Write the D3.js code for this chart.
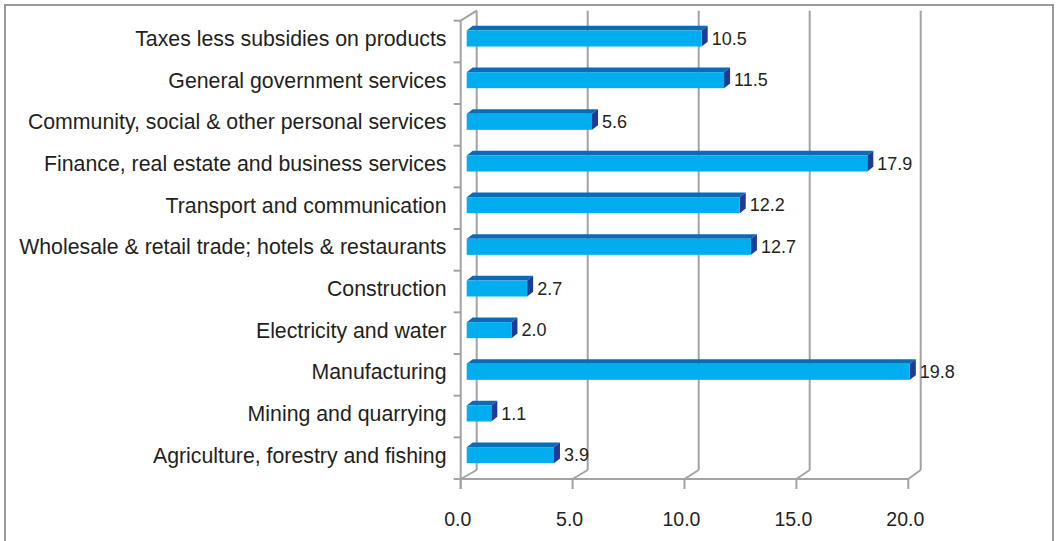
<!DOCTYPE html>
<html>
<head>
<meta charset="utf-8">
<script src="https://cdn.jsdelivr.net/npm/d3@7"></script>
<style>
  html, body { margin: 0; padding: 0; background: #fff; }
  svg { display: block; font-family: "Liberation Sans", Arial, sans-serif; }
</style>
</head>
<body>
<svg id="chart" width="1056" height="541"></svg>
<script>
// Sector shares (top to bottom as displayed)
const categories = [
  "Taxes less subsidies on products",
  "General government services",
  "Community, social & other personal services",
  "Finance, real estate and business services",
  "Transport and communication",
  "Wholesale & retail trade; hotels & restaurants",
  "Construction",
  "Electricity and water",
  "Manufacturing",
  "Mining and quarrying",
  "Agriculture, forestry and fishing"
];
const values = [10.5, 11.5, 5.6, 17.9, 12.2, 12.7, 2.7, 2.0, 19.8, 1.1, 3.9];
const tickValues = [0, 5, 10, 15, 20];
const tickLabels = ["0.0", "5.0", "10.0", "15.0", "20.0"];

const svg = d3.select("#chart");

// Outer frame (open at the bottom edge)
svg.append("rect")
  .attr("x", 5).attr("y", 5)
  .attr("width", 1048).attr("height", 560)
  .attr("fill", "none")
  .attr("stroke", "#9a9a9a")
  .attr("stroke-width", 2);

// Front plane and back wall scales (pseudo-3D floor depth)
const x = d3.scaleLinear().domain([0, 20]).range([460.7, 908.3]);
const xBack = d3.scaleLinear().domain([0, 20]).range([476.7, 920.7]);
const floorY = 479, backFloorY = 470, backTopY = 10.7, wallTopY = 20.7;

const y = d3.scaleBand().domain(categories).range([wallTopY, floorY]).padding(0);

const grid = svg.append("g").attr("stroke", "#a3a3a3").attr("stroke-width", 2).attr("fill", "none");

// Back wall vertical gridlines
grid.selectAll("line.back").data(tickValues).join("line")
  .attr("class", "back")
  .attr("x1", d => xBack(d)).attr("x2", d => xBack(d))
  .attr("y1", backTopY).attr("y2", backFloorY);

// Floor depth diagonals
grid.selectAll("line.depth").data(tickValues).join("line")
  .attr("class", "depth")
  .attr("x1", d => x(d)).attr("x2", d => xBack(d))
  .attr("y1", floorY).attr("y2", backFloorY);

// Left wall top edge
grid.append("line")
  .attr("x1", x(0)).attr("y1", wallTopY)
  .attr("x2", xBack(0)).attr("y2", backTopY);

// Left wall front edge (extends into the 0 tick)
grid.append("line")
  .attr("x1", x(0)).attr("x2", x(0))
  .attr("y1", wallTopY).attr("y2", floorY + 10);

// Floor front edge
grid.append("line")
  .attr("x1", x(0) - 7).attr("x2", x(20))
  .attr("y1", floorY).attr("y2", floorY);

// Value axis tick marks
grid.selectAll("line.xtick").data(tickValues).join("line")
  .attr("class", "xtick")
  .attr("x1", d => x(d)).attr("x2", d => x(d))
  .attr("y1", floorY).attr("y2", floorY + 10);

// Category tick marks at band boundaries
const bounds = categories.map(c => y(c));
grid.selectAll("line.ytick").data(bounds).join("line")
  .attr("class", "ytick")
  .attr("x1", x(0) - 7).attr("x2", x(0))
  .attr("y1", d => d).attr("y2", d => d);

// Bars (front, top and end faces)
const depthX = 6, depthY = 4.7;
const faceOffX = 6, faceOffY = -3;
const faceH = 16;

const bars = svg.append("g").selectAll("g").data(categories).join("g");

bars.each(function (c, i) {
  const g = d3.select(this);
  const cy = y(c) + y.bandwidth() / 2 + faceOffY;
  const x0 = x(0) + faceOffX;
  const x1 = x(values[i]) + faceOffX;
  const top = cy - faceH / 2, bot = cy + faceH / 2;
  // top face
  g.append("path")
    .attr("d", `M${x0},${top} L${x0 + depthX},${top - depthY} L${x1 + depthX},${top - depthY} L${x1},${top} Z`)
    .attr("fill", "#0a6cb8");
  // end face
  g.append("path")
    .attr("d", `M${x1},${top} L${x1 + depthX},${top - depthY} L${x1 + depthX},${bot - depthY} L${x1},${bot} Z`)
    .attr("fill", "#213a94");
  // front face
  g.append("rect")
    .attr("x", x0).attr("y", top)
    .attr("width", x1 - x0).attr("height", faceH)
    .attr("fill", "#00aeef");
  // value label
  g.append("text")
    .attr("x", x1 + depthX + 4)
    .attr("y", cy)
    .attr("dy", "0.35em")
    .attr("font-size", 18)
    .attr("fill", "#231f20")
    .text(values[i].toFixed(1));
});

// Category labels
svg.append("g").selectAll("text").data(categories).join("text")
  .attr("x", 446.5)
  .attr("y", d => y(d) + y.bandwidth() / 2 + faceOffY)
  .attr("dy", "0.35em")
  .attr("text-anchor", "end")
  .attr("font-size", 21.3)
  .attr("fill", "#231f20")
  .text(d => d);

// Value axis labels
svg.append("g").selectAll("text").data(tickValues).join("text")
  .attr("x", d => x(d) - 3)
  .attr("y", 526)
  .attr("text-anchor", "middle")
  .attr("font-size", 19.5)
  .attr("fill", "#231f20")
  .text((d, i) => tickLabels[i]);
</script>
</body>
</html>
